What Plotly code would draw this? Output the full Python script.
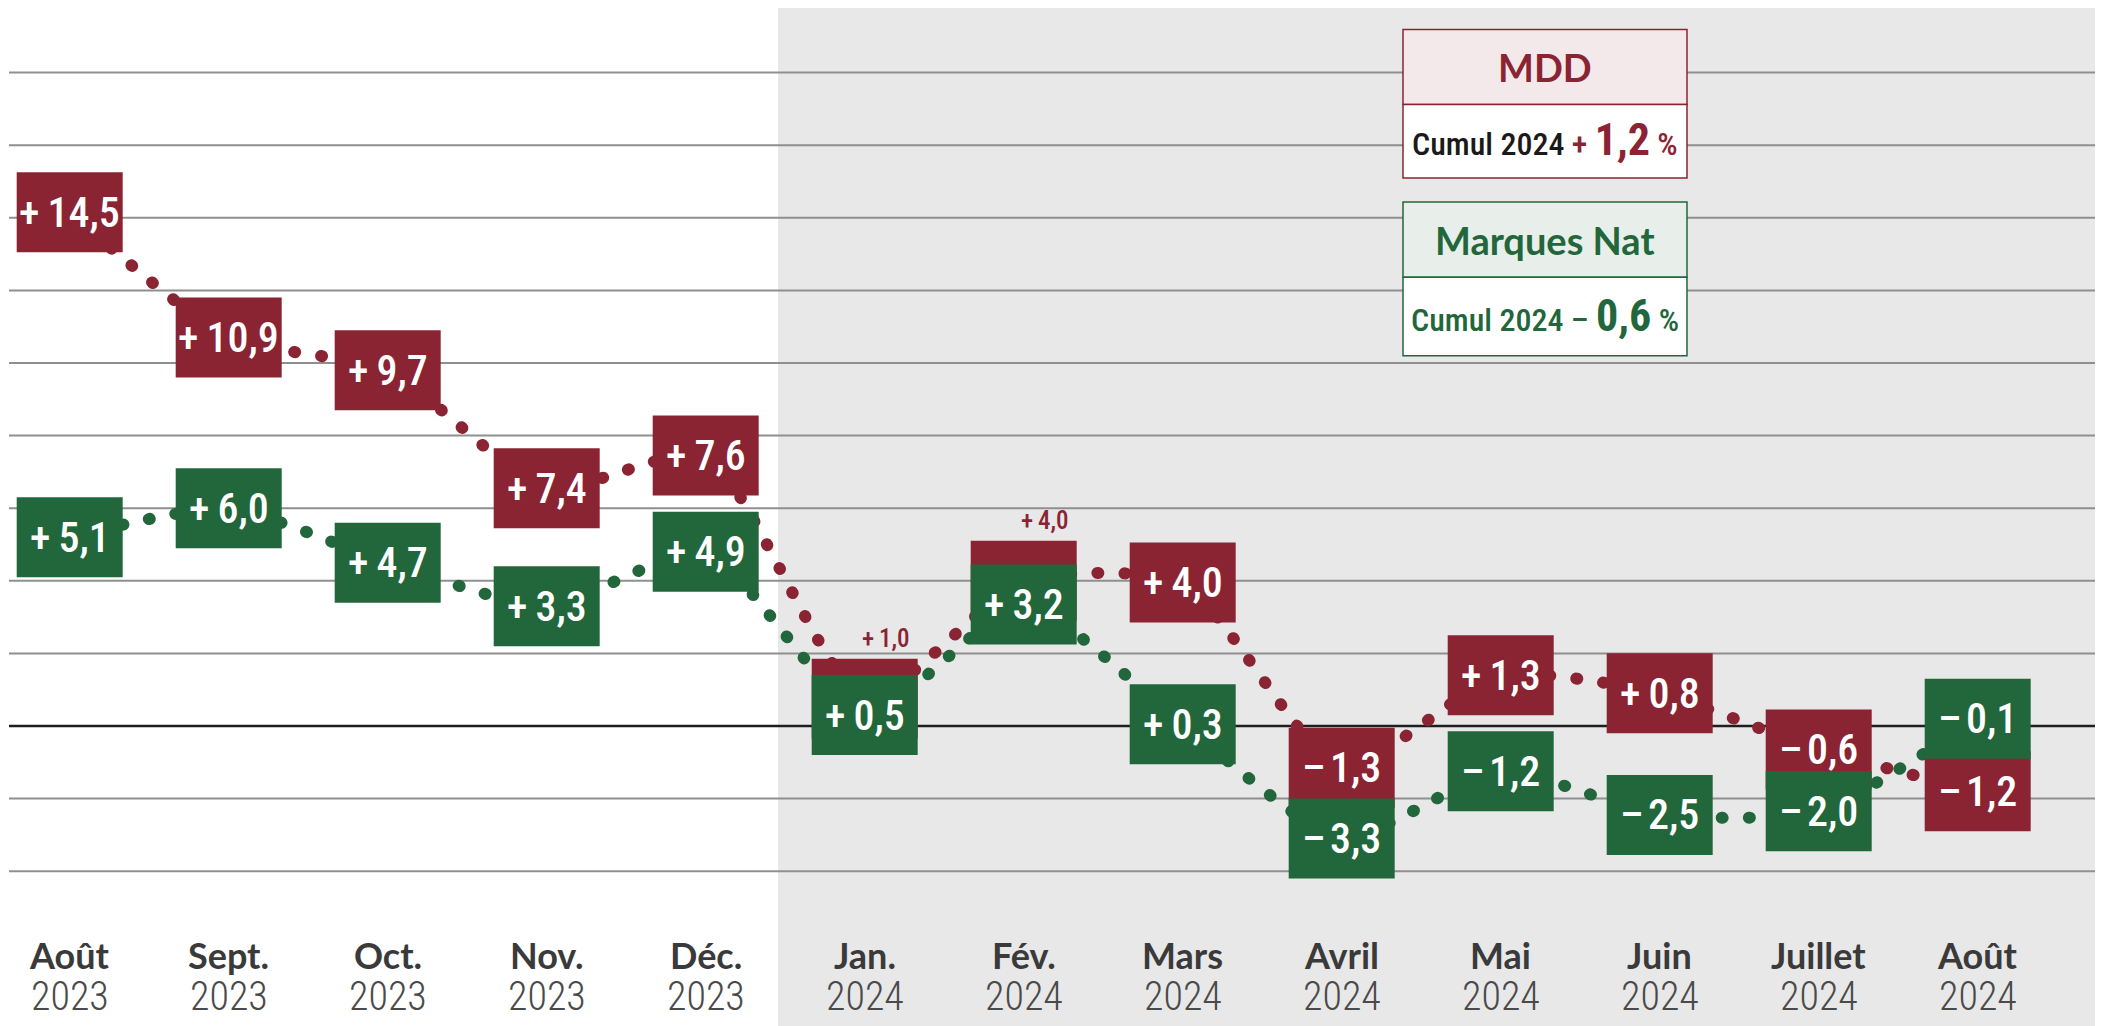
import plotly.graph_objects as go

# ---------------- data ----------------
months = ["Août", "Sept.", "Oct.", "Nov.", "Déc.", "Jan.", "Fév.", "Mars",
          "Avril", "Mai", "Juin", "Juillet", "Août"]
years = ["2023", "2023", "2023", "2023", "2023", "2024", "2024", "2024",
         "2024", "2024", "2024", "2024", "2024"]
mdd = [14.5, 10.9, 9.7, 7.4, 7.6, 1.0, 4.0, 4.0, -1.3, 1.3, 0.8, -0.6, -1.2]
nat = [5.1, 6.0, 4.7, 3.3, 4.9, 0.5, 3.2, 0.3, -3.3, -1.2, -2.5, -2.0, -0.1]
cumul_mdd = 1.2
cumul_nat = -0.6
series_names = ["MDD", "Marques Nat"]

# display-only nudges of the label boxes (percentage points), as laid out in the original
mdd_nudge = [-0.35, -0.2, 0.1, -0.85, -0.15, -0.25, 0.0, -0.05, 0.15, 0.1, 0.1, -0.05, -0.6]
nat_nudge = [0.1, 0.0, -0.2, 0.0, -0.1, -0.2, 0.15, -0.25, 0.2, -0.05, 0.05, -0.35, 0.3]

# ---------------- style ----------------
RED = "#8a2433"
GREEN = "#22673b"
GRAY_BG = "#e8e8e8"
GRID = "#8f8f8f"
COND = "Roboto Condensed, Roboto, Liberation Sans, sans-serif"
LATO = "Lato, Open Sans, sans-serif"

OFF = 8                    # page margin of the html body
W, H = 2103 - OFF, 1026 - OFF
X0, DX = 69.7 - OFF, 159.0     # pixel of first category, pixels per category
Y0, DY = 726.0 - OFF, 36.3     # pixel of zero line, pixels per percentage point
xr = [-X0 / DX, (W - X0) / DX]
yr = [-(H - Y0) / DY, Y0 / DY]
BOX_W = 106 / DX
BOX_H = 80 / DY


def px_x(p):
    return (p - OFF - X0) / DX


def px_y(p):
    return (Y0 - (p - OFF)) / DY


def fmt(v):
    if v >= 0:
        return "+\u2009" + f"{v:.1f}".replace(".", ",")
    return "–\u200a" + f"{abs(v):.1f}".replace(".", ",")


xs = list(range(len(months)))
mdd_pos = [v + n for v, n in zip(mdd, mdd_nudge)]
nat_pos = [v + n for v, n in zip(nat, nat_nudge)]

fig = go.Figure()

for pos, col, name in [(mdd_pos, RED, series_names[0]), (nat_pos, GREEN, series_names[1])]:
    fig.add_trace(go.Scatter(
        x=xs, y=pos, mode="lines", name=name,
        line=dict(color=col, width=12, dash="1px,26px", shape="spline", smoothing=0.6),
        hoverinfo="skip",
    ))

shapes = []
# shaded 2024 area
shapes.append(dict(type="rect", xref="x", yref="y", x0=px_x(778), x1=px_x(2097),
                   y0=yr[0], y1=yr[1], fillcolor=GRAY_BG, line=dict(width=0), layer="below"))
# gridlines
for g in range(-4, 20, 2):
    shapes.append(dict(type="line", xref="x", yref="y", x0=px_x(9), x1=px_x(2096), y0=g, y1=g,
                       line=dict(color="#1e1e1e" if g == 0 else GRID, width=2.5 if g == 0 else 2),
                       layer="below"))

annotations = []
for i in xs:
    rc = mdd_pos[i]
    shapes.append(dict(type="rect", xref="x", yref="y", x0=i - BOX_W / 2, x1=i + BOX_W / 2,
                       y0=rc - BOX_H / 2, y1=rc + BOX_H / 2, fillcolor=RED, line=dict(width=0),
                       layer="above"))
for i in xs:
    gc = nat_pos[i]
    shapes.append(dict(type="rect", xref="x", yref="y", x0=i - BOX_W / 2, x1=i + BOX_W / 2,
                       y0=gc - BOX_H / 2, y1=gc + BOX_H / 2, fillcolor=GREEN, line=dict(width=0),
                       layer="above"))

for i in xs:
    rc, gc = mdd_pos[i], nat_pos[i]
    covered = (gc - BOX_H / 2) < rc < (gc + BOX_H / 2)
    if covered:
        annotations.append(dict(x=i + 0.13, y=rc + BOX_H / 2 + 0.55, xref="x", yref="y",
                                xanchor="center", yanchor="middle",
                                text=fmt(mdd[i]), showarrow=False,
                                font=dict(family=COND, size=25, color=RED, weight=500)))
    else:
        annotations.append(dict(x=i, y=rc, xref="x", yref="y", text=fmt(mdd[i]), showarrow=False,
                                xanchor="center", yanchor="middle",
                                font=dict(family=COND, size=42, color="white", weight=500)))
    annotations.append(dict(x=i, y=gc, xref="x", yref="y", text=fmt(nat[i]), showarrow=False,
                            xanchor="center", yanchor="middle",
                            font=dict(family=COND, size=42, color="white", weight=500)))
    # axis labels
    annotations.append(dict(x=i, y=px_y(955), xref="x", yref="y", text=months[i], showarrow=False,
                            xanchor="center", yanchor="middle",
                            font=dict(family=LATO, size=36, color="#3a3a3a", weight=700)))
    annotations.append(dict(x=i, y=px_y(996), xref="x", yref="y", text=years[i], showarrow=False,
                            xanchor="center", yanchor="middle",
                            font=dict(family=COND, size=40, color="#4a4a4a", weight=300)))

# legend / cumulative boxes
LX0, LX1 = 1403, 1687
legend_boxes = [
    (RED, "#f3e8ea", 29.5, 104.6, 178),
    (GREEN, "#e8eee9", 202, 277.3, 355.7),
]
for col, hfill, top, mid, bot in legend_boxes:
    shapes.append(dict(type="rect", xref="x", yref="y", x0=px_x(LX0), x1=px_x(LX1),
                       y0=px_y(mid), y1=px_y(top),
                       fillcolor=hfill, line=dict(color=col, width=1.5), layer="above"))
    shapes.append(dict(type="rect", xref="x", yref="y", x0=px_x(LX0), x1=px_x(LX1),
                       y0=px_y(bot), y1=px_y(mid),
                       fillcolor="white", line=dict(color=col, width=1.5), layer="above"))

cx = px_x((LX0 + LX1) / 2)
annotations.append(dict(x=cx, y=px_y(67), xref="x", yref="y", text=series_names[0],
                        xanchor="center", yanchor="middle", showarrow=False,
                        font=dict(family=LATO, size=38, color=RED, weight=700)))
annotations.append(dict(x=cx, y=px_y(240), xref="x", yref="y", text=series_names[1],
                        xanchor="center", yanchor="middle", showarrow=False,
                        font=dict(family=LATO, size=38, color=GREEN, weight=700)))


def cumul_text(v, label_col, col):
    sign = "+" if v >= 0 else "–"
    num = f"{abs(v):.1f}".replace(".", ",")
    return (f"<span style='color:{label_col}'>Cumul 2024</span> "
            f"<span style='color:{col}'>{sign} <b><span style='font-size:44px'>{num}</span></b> %</span>")


annotations.append(dict(x=cx, y=px_y(140), xref="x", yref="y",
                        xanchor="center", yanchor="middle",
                        text=cumul_text(cumul_mdd, "#1a1a1a", RED), showarrow=False,
                        font=dict(family=COND, size=32, color="#1a1a1a", weight=500)))
annotations.append(dict(x=cx, y=px_y(316), xref="x", yref="y",
                        xanchor="center", yanchor="middle",
                        text=cumul_text(cumul_nat, GREEN, GREEN), showarrow=False,
                        font=dict(family=COND, size=32, color=GREEN, weight=500)))

fig.update_layout(
    width=W, height=H,
    margin=dict(l=0, r=0, t=0, b=0),
    paper_bgcolor="white", plot_bgcolor="white",
    showlegend=False, hovermode=False,
    xaxis=dict(range=xr, visible=False, fixedrange=True),
    yaxis=dict(range=yr, visible=False, fixedrange=True),
    shapes=shapes, annotations=annotations,
)

js = ("document.querySelectorAll('.scatterlayer .js-line').forEach(function(p){"
      "p.style.strokeLinecap='round';});")
fig.write_html("out.html", post_script=js, config={"displayModeBar": False})
